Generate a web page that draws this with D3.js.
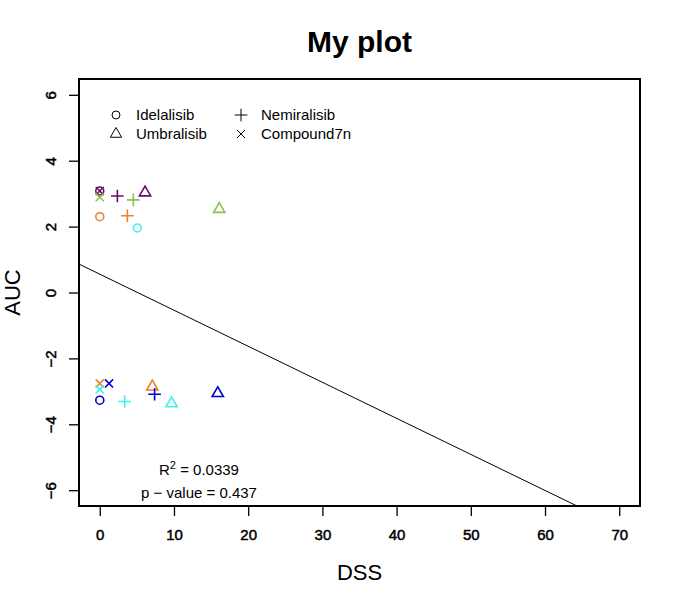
<!DOCTYPE html>
<meta charset="utf-8">
<head>
    <style>
        body, html {
            margin: 0;
            background: white;
        }
        svg text {
            font-family: "Liberation Sans", Arial, sans-serif;
            fill: black;
        }
    </style>
    <script src="https://cdn.jsdelivr.net/npm/d3@7"></script>
</head>
<body>
<div id="chart"></div>

<script>
    // drugs (one symbol each) and samples (one colour each)
    var drugNames = ["Idelalisib", "Umbralisib", "Nemiralisib", "Compound7n"];
    var sampleColors = ["#6a0a6a", "#8dc050", "#e8822a", "#40f0f0", "#0000cd"];

    // one entry per point
    var pointSample = [0, 0, 0, 0,   1, 1, 1,   2, 2, 2, 2,   3, 3, 3, 3,   4, 4, 4, 4];
    var pointDrug   = [0, 1, 2, 3,   1, 2, 3,   0, 2, 1, 3,   0, 3, 2, 1,   3, 0, 2, 1];
    var pointDSS    = [0, 6.1, 2.37, 0,   16.1, 4.52, 0,   0, 3.72, 7.08, 0,   5.06, 0, 3.36, 9.67,   1.25, 0, 7.39, 15.9];
    var pointAUC    = [3.08, 3.03, 2.93, 3.08,   2.53, 2.81, 2.89,   2.30, 2.33, -2.86, -2.76,   1.96, -2.94, -3.31, -3.37,   -2.76, -3.27, -3.09, -3.06];

    var xTicks = [0, 10, 20, 30, 40, 50, 60, 70];
    var yTicks = [-6, -4, -2, 0, 2, 4, 6];
    var xLimits = [0, 70];
    var yLimits = [-6, 6];

    // fitted line and its stats
    var fitIntercept = 0.556;
    var fitSlope = -0.1094;
    var fitR2 = "0.0339";
    var fitP = "0.437";

    var svgWidth = 680;
    var svgHeight = 604;
    var box = {left: 79, right: 640, top: 79, bottom: 506};

    // R style 4% extension of the axis limits
    function extend(lim) {
        var d = (lim[1] - lim[0]) * 0.04;
        return [lim[0] - d, lim[1] + d];
    }

    var x = d3.scaleLinear().domain(extend(xLimits)).range([box.left, box.right]);
    var y = d3.scaleLinear().domain(extend(yLimits)).range([box.bottom, box.top]);

    var symbolTypes = [d3.symbolCircle, d3.symbolTriangle2, d3.symbolPlus, d3.symbolTimes];
    var symbolSizes = [50, 91, 54, 44];

    var svg = d3.select("#chart").append("svg")
        .attr("width", svgWidth)
        .attr("height", svgHeight);

    svg.append("defs").append("clipPath").attr("id", "plotClip")
        .append("rect")
        .attr("x", box.left).attr("y", box.top)
        .attr("width", box.right - box.left)
        .attr("height", box.bottom - box.top);

    // title and axis labels
    svg.append("text")
        .attr("x", (box.left + box.right) / 2)
        .attr("y", 52)
        .attr("text-anchor", "middle")
        .style("font-size", "30px")
        .style("font-weight", "bold")
        .text("My plot");

    svg.append("text")
        .attr("x", (box.left + box.right) / 2)
        .attr("y", 580)
        .attr("text-anchor", "middle")
        .style("font-size", "22px")
        .text("DSS");

    svg.append("text")
        .attr("transform", "translate(20," + ((box.top + box.bottom) / 2) + ") rotate(-90)")
        .attr("text-anchor", "middle")
        .style("font-size", "22px")
        .text("AUC");

    // x axis
    var xAxis = svg.append("g")
        .attr("transform", "translate(0," + box.bottom + ")")
        .call(d3.axisBottom(x).tickValues(xTicks).tickSize(10).tickPadding(13).tickFormat(d3.format("d")));
    xAxis.select(".domain").remove();
    xAxis.selectAll(".tick line").attr("stroke", "black").attr("stroke-width", 1.3);
    xAxis.selectAll(".tick text")
        .style("font-size", "15px")
        .style("font-family", "'Liberation Sans', Arial, sans-serif")
        .attr("stroke", "black")
        .attr("stroke-width", 0.5);

    // y axis, labels parallel to the axis
    var yAxis = svg.append("g")
        .attr("transform", "translate(" + box.left + ",0)")
        .call(d3.axisLeft(y).tickValues(yTicks).tickSize(10).tickFormat(d3.format("d")));
    yAxis.select(".domain").remove();
    yAxis.selectAll(".tick line").attr("stroke", "black").attr("stroke-width", 1.3);
    yAxis.selectAll(".tick text")
        .attr("x", 0)
        .attr("dy", 0)
        .attr("transform", "translate(-29,0) rotate(-90)")
        .attr("text-anchor", "middle")
        .attr("dominant-baseline", "central")
        .style("font-size", "15px")
        .style("font-family", "'Liberation Sans', Arial, sans-serif")
        .attr("stroke", "black")
        .attr("stroke-width", 0.5);

    // fitted line
    var xs = x.domain();
    svg.append("line")
        .attr("clip-path", "url(#plotClip)")
        .attr("x1", x(xs[0])).attr("y1", y(fitIntercept + fitSlope * xs[0]))
        .attr("x2", x(xs[1])).attr("y2", y(fitIntercept + fitSlope * xs[1]))
        .attr("stroke", "black")
        .attr("stroke-width", 1);

    // points
    var points = pointDSS.map(function (d, i) {
        return {dss: d, auc: pointAUC[i], drug: pointDrug[i], sample: pointSample[i]};
    });

    svg.append("g").selectAll("path")
        .data(points)
        .enter()
        .append("path")
        .attr("transform", function (d) { return "translate(" + x(d.dss) + "," + y(d.auc) + ")"; })
        .attr("d", function (d) {
            return d3.symbol().type(symbolTypes[d.drug]).size(symbolSizes[d.drug])();
        })
        .attr("fill", "none")
        .attr("stroke", function (d) { return sampleColors[d.sample]; })
        .attr("stroke-width", 1.6);

    // legend, two columns
    var legend = svg.append("g");
    var legendItem = legend.selectAll("g")
        .data(drugNames)
        .enter()
        .append("g")
        .attr("transform", function (d, i) {
            var col = i < 2 ? 0 : 1;
            var row = i % 2;
            return "translate(" + (116 + col * 125) + "," + (115 + row * 19) + ")";
        });
    legendItem.append("path")
        .attr("d", function (d, i) {
            return d3.symbol().type(symbolTypes[i]).size(symbolSizes[i])();
        })
        .attr("fill", "none")
        .attr("stroke", "black")
        .attr("stroke-width", 1);
    legendItem.append("text")
        .attr("x", 20)
        .attr("y", 5)
        .style("font-size", "15px")
        .text(function (d) { return d; });

    // stats text
    var r2 = svg.append("text")
        .attr("x", 199)
        .attr("y", 475)
        .attr("text-anchor", "middle")
        .style("font-size", "15px");
    r2.append("tspan").text("R");
    r2.append("tspan").attr("dy", -6).style("font-size", "11px").text("2");
    r2.append("tspan").attr("dy", 6).text(" = " + fitR2);

    svg.append("text")
        .attr("x", 199)
        .attr("y", 498)
        .attr("text-anchor", "middle")
        .style("font-size", "15px")
        .text("p \u2212 value = " + fitP);

    // frame
    svg.append("rect")
        .attr("x", box.left).attr("y", box.top)
        .attr("width", box.right - box.left)
        .attr("height", box.bottom - box.top)
        .attr("fill", "none")
        .attr("stroke", "black")
        .attr("stroke-width", 2);
</script>
</body>
